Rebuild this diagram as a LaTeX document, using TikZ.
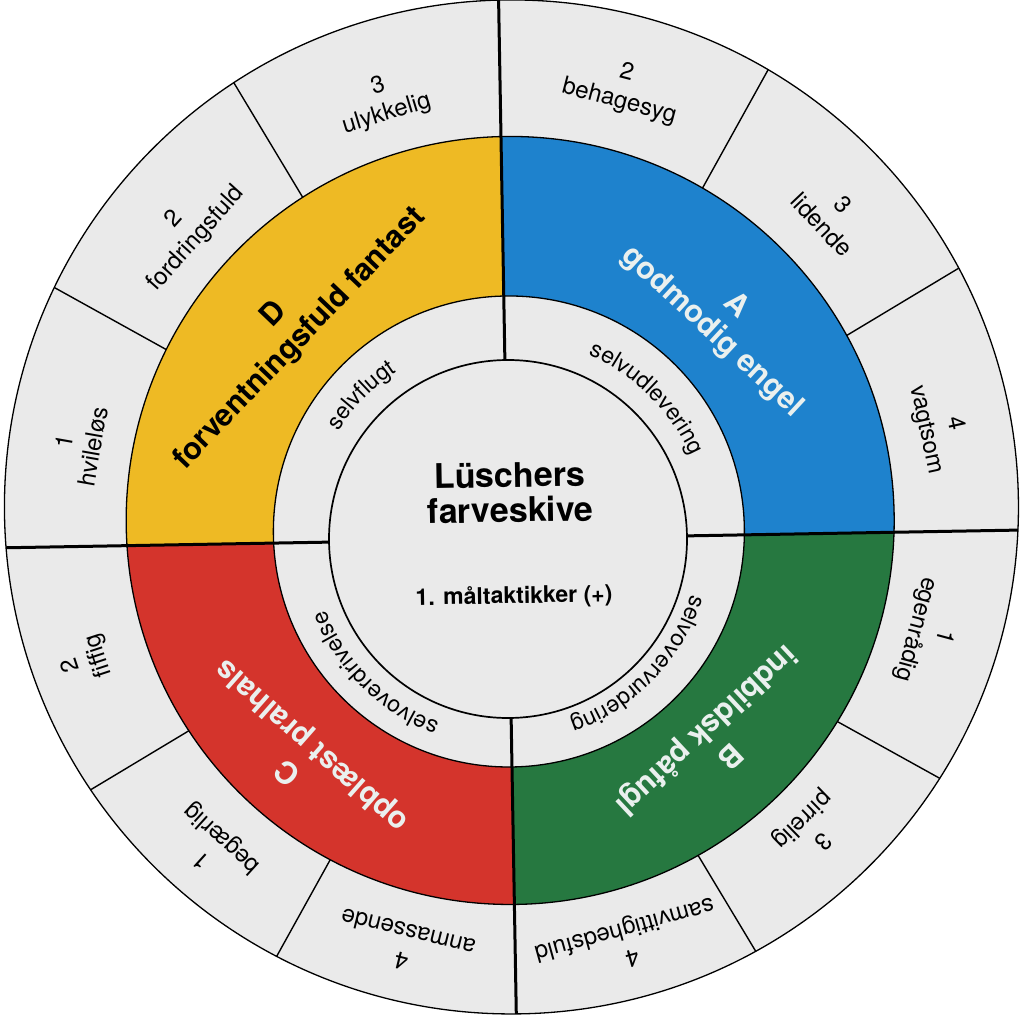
\documentclass[tikz,border=0pt]{standalone}
\usepackage{fontspec}
\setmainfont{TeX Gyre Heros}
\usetikzlibrary{calc,decorations.text}
\definecolor{skivegray}{RGB}{234,234,234}
\definecolor{skiveyellow}{RGB}{238,186,36}
\definecolor{skiveblue}{RGB}{30,130,205}
\definecolor{skivegreen}{RGB}{38,120,64}
\definecolor{skivered}{RGB}{212,52,44}
\definecolor{skivelight}{RGB}{234,240,238}
\def\ringfont{\fontsize{23}{27}\selectfont}

\begin{document}
\begin{tikzpicture}[x=1pt,y=1pt,
seglabel/.style={align=center, inner sep=0pt, font=\fontsize{24}{29}\selectfont},
typelabel/.style={align=center, inner sep=0pt, font=\fontsize{30.5}{35}\selectfont\bfseries},
ringline/.style={line width=1.3pt}, segline/.style={line width=1.4pt}, quadline/.style={line width=3pt},
ringtext/.style={decorate, decoration={text along path, text align=center, text={|\ringfont|#1}}}
]
\useasboundingbox (0,0) rectangle (1024,1021);
\coordinate (P) at (508,482);
\begin{scope}[rotate around={1:(P)}, transform shape]
% centres of the four rings
\coordinate (O1) at (512,514);
\coordinate (O2) at (510.5,500.5);
\coordinate (O3) at (509,489.5);
\coordinate (O4) at (508,482);
\fill[skivegray] (O1) circle (507);
\begin{scope}
\clip (O1) circle (507);
\foreach \a in {30,60,120,150,210,240,300,330}
  \draw[segline] ($(O4)+(\a:300)$) -- ++(\a:400);
\end{scope}
\foreach \a/\b/\col in {0/90/skiveblue, 90/180/skiveyellow, 180/270/skivered, 270/360/skivegreen} {
  \begin{scope}
  \clip (O4) -- ($(O4)+(\a:600)$) arc[start angle=\a, end angle=\b, radius=600] -- cycle;
  \fill[\col, even odd rule] (O2) circle (384) (O3) circle (235.5);
  \end{scope}
}
\draw[ringline] (O1) circle (507);
\draw[ringline] (O2) circle (384);
\draw[ringline] (O3) circle (235.5);
\draw[line width=1.7pt] (O4) circle (179);
\begin{scope}
\clip (O1) circle (507);
\foreach \a in {0,90,180,270}
  \draw[quadline] ($(O4)+(\a:179)$) -- ++(\a:360);
\end{scope}
% outer ring
\node[seglabel, rotate=15.9] (ulykkelig) at ($(O2)+(105.9:439)$) {3\\ulykkelig};
\node[seglabel, rotate=47.1] (fordringsfuld) at ($(O2)+(137.1:436)$) {2\\fordringsfuld};
\node[seglabel, rotate=79] (hvileloes) at ($(O2)+(169:438)$) {1\\hvileløs};
\node[seglabel, rotate=-15.6] (behagesyg) at ($(O2)+(74.4:447)$) {2\\behagesyg};
\node[seglabel, rotate=-47.5] (lidende) at ($(O2)+(42.5:444)$) {3\\lidende};
\node[seglabel, rotate=-78.7] (vagtsom) at ($(O2)+(11.3:440)$) {4\\vagtsom};
\node[seglabel, rotate=-106] (egenraadig) at ($(O2)+(-16:434)$) {1\\egenrådig};
\node[seglabel, rotate=-136.7] (pirrelig) at ($(O2)+(-46.7:432)$) {3\\pirrelig};
\node[seglabel, rotate=-165.4] (samvittighedsfuld) at ($(O2)+(-75.4:438)$) {4\\samvittighedsfuld};
\node[seglabel, rotate=107.2] (fiffig) at ($(O2)+(197.2:447)$) {2\\fiffig};
\node[seglabel, rotate=136.8] (begaerlig) at ($(O2)+(226.8:443)$) {1\\begærlig};
\node[seglabel, rotate=165.1] (anmassende) at ($(O2)+(255.1:439)$) {4\\anmassende};
% colour ring
\node[typelabel, rotate=45.3] (typeD) at ($(O2)+(138:295)$) {D\\forventningsfuld fantast};
\node[typelabel, text=skivelight, rotate=-43.8] (typeA) at ($(O2)+(42.3:293.6)$) {A\\godmodig engel};
\node[typelabel, text=skivelight, rotate=-138] (typeB) at ($(O2)+(-48:303)$) {B\\indbildsk påfugl};
\node[typelabel, text=skivelight, rotate=137.6] (typeC) at ($(O2)+(227.6:316.7)$) {C\\opblæst pralhals};
% inner ring
\path[ringtext=selvflugt] ($(O4)+(179.6:201)$) arc[start angle=179.6, end angle=89.6, radius=201];
\path[ringtext=selvudlevering] ($(O4)+(89.4:201)$) arc[start angle=89.4, end angle=-0.6, radius=201];
\path[ringtext=selvovervurdering] ($(O4)+(0:191)$) arc[start angle=0, end angle=-90, radius=191];
\path[ringtext=selvoverdrivelse] ($(O4)+(269.4:196)$) arc[start angle=269.4, end angle=179.4, radius=196];
% centre
\node[font=\fontsize{34}{35}\selectfont\bfseries, align=center] (title) at (511,528.5) {Lüschers\\farveskive};
\node[font=\fontsize{23}{27}\selectfont\bfseries] (tactic) at (513,424) {1. måltaktikker (+)};
\end{scope}
\end{tikzpicture}
\end{document}
